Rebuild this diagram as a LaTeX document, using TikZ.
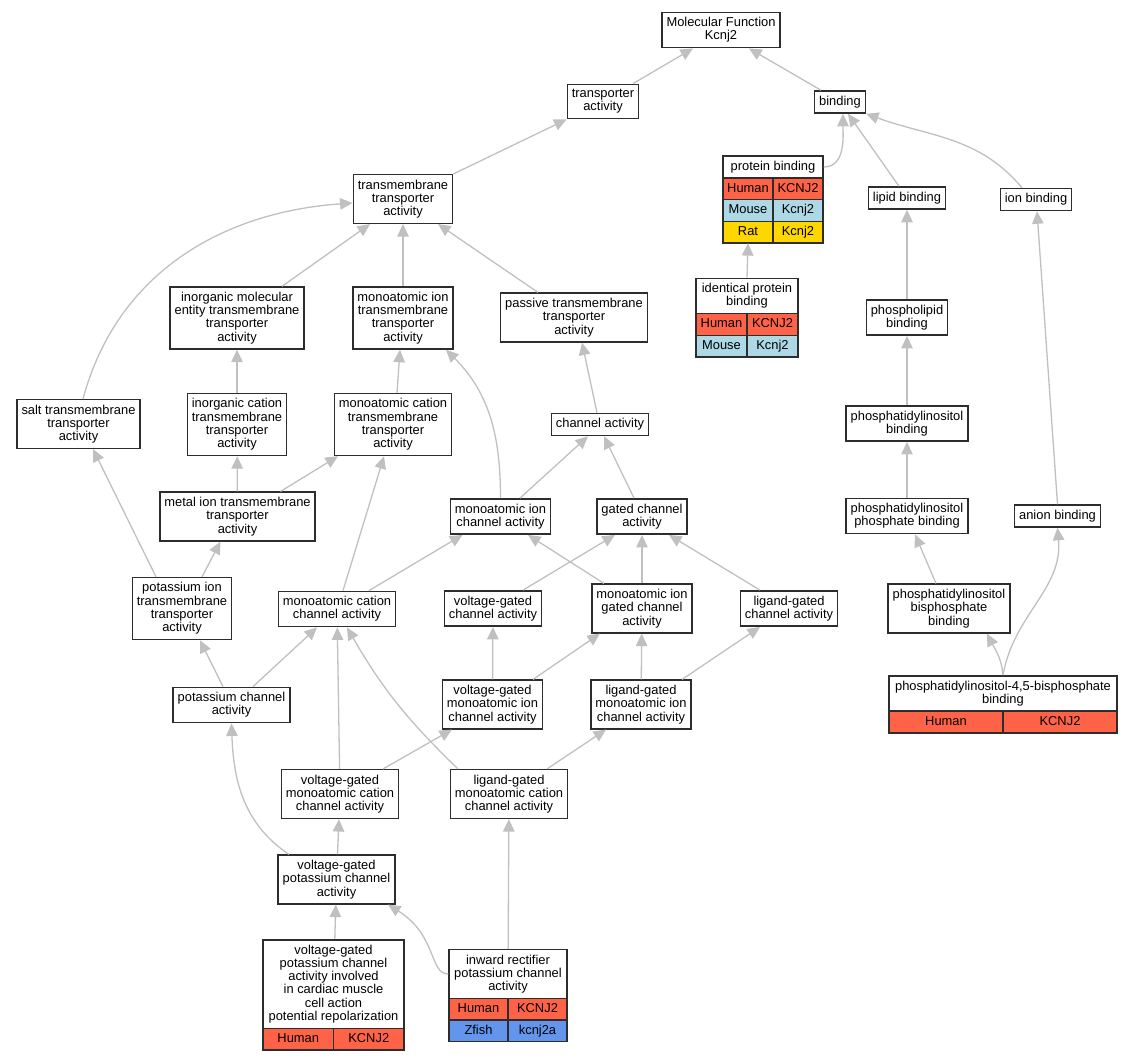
\documentclass[tikz,border=0pt]{standalone}
\usepackage{fontspec}
\setmainfont{Liberation Sans}
\usetikzlibrary{matrix,positioning,arrows.meta}
\definecolor{human}{RGB}{255,99,71}
\definecolor{mouse}{RGB}{173,216,230}
\definecolor{rat}{RGB}{255,215,0}
\definecolor{zfish}{RGB}{100,149,237}
\definecolor{linkgray}{RGB}{192,192,192}
\definecolor{boxgray}{RGB}{45,45,45}

\begin{document}
\begin{tikzpicture}[x=1pt,y=1pt,font=\fontsize{12.9}{13.3}\selectfont,
  term/.style={draw=boxgray,line width=1.5pt,fill=white,align=center,inner xsep=4.5pt,inner ysep=5pt},
  gtab/.style={matrix of nodes,inner sep=0pt,outer sep=0pt,row sep=-1.5pt,column sep=-1.5pt,
    nodes={draw=boxgray,line width=1.5pt,minimum width=#1,minimum height=21.7pt,
      inner sep=0pt,text height=9.4pt,text depth=2.7pt}},
  hs/.style={fill=human},ms/.style={fill=mouse},rs/.style={fill=rat},zs/.style={fill=zfish},
  isa/.style={draw=linkgray,line width=1.3pt,-{Triangle[length=12.5pt,width=11.5pt]}}]

  \useasboundingbox (0,0) rectangle (1133,-1061);

  % top of the tree
  \node[term] (mf) at (721,-30) {Molecular Function\\Kcnj2};
  \node[term] (ta) at (603,-101.5) {transporter\\activity};
  \node[term] (bind) at (840,-102) {binding};

  \node[term,minimum width=100pt] (pb) at (773,-167) {protein binding};
    \matrix[gtab=50pt,below=-1.5pt of pb] (pbt) {|[hs]| Human & |[hs]| KCNJ2\\
      |[ms]| Mouse & |[ms]| Kcnj2\\ |[rs]| Rat & |[rs]| Kcnj2\\};

  \node[term] (lip) at (907,-198) {lipid binding};
  \node[term] (ionb) at (1036,-199.5) {ion binding};
  \node[term] (tta) at (403,-199) {transmembrane\\transporter\\activity};

  \node[term] (imett) at (237,-318) {inorganic molecular\\entity transmembrane\\transporter\\activity};
  \node[term] (mitt) at (403,-318) {monoatomic ion\\transmembrane\\transporter\\activity};
  \node[term] (passive) at (574,-317.5) {passive transmembrane\\transporter\\activity};

  \node[term,minimum width=102pt] (ipb) at (747,-296) {identical protein\\binding};
    \matrix[gtab=51pt,below=-1.5pt of ipb] (ipbt) {|[hs]| Human & |[hs]| KCNJ2\\
      |[ms]| Mouse & |[ms]| Kcnj2\\};

  \node[term] (phl) at (907,-317.5) {phospholipid\\binding};

  \node[term] (salt) at (78.5,-424) {salt transmembrane\\transporter\\activity};
  \node[term] (ictt) at (237,-424.5) {inorganic cation\\transmembrane\\transporter\\activity};
  \node[term] (mctt) at (393,-424.5) {monoatomic cation\\transmembrane\\transporter\\activity};
  \node[term] (chan) at (600,-424.5) {channel activity};
  \node[term] (pib) at (907,-423.5) {phosphatidylinositol\\binding};

  \node[term] (metal) at (237.5,-516.5) {metal ion transmembrane\\transporter\\activity};
  \node[term] (mica) at (500.5,-516.5) {monoatomic ion\\channel activity};
  \node[term] (gca) at (642,-516.5) {gated channel\\activity};
  \node[term] (pipb) at (907,-516) {phosphatidylinositol\\phosphate binding};
  \node[term] (anion) at (1057.5,-516) {anion binding};

  \node[term] (kitt) at (182,-608.5) {potassium ion\\transmembrane\\transporter\\activity};
  \node[term] (mcca) at (337,-609) {monoatomic cation\\channel activity};
  \node[term] (vgca) at (493,-608.5) {voltage-gated\\channel activity};
  \node[term] (migca) at (642,-608.5) {monoatomic ion\\gated channel\\activity};
  \node[term] (lgca) at (789,-608.5) {ligand-gated\\channel activity};
  \node[term] (pipbb) at (949,-608.5) {phosphatidylinositol\\bisphosphate\\binding};

  \node[term] (kca) at (231.5,-705) {potassium channel\\activity};
  \node[term] (vgmica) at (492.5,-704.5) {voltage-gated\\monoatomic ion\\channel activity};
  \node[term] (lgmica) at (641,-704.5) {ligand-gated\\monoatomic ion\\channel activity};

  \node[term,minimum width=228pt] (pip2) at (1003,-693.5) {phosphatidylinositol-4,5-bisphosphate\\binding};
    \matrix[gtab=114pt,below=-1.5pt of pip2] (pip2t) {|[hs]| Human & |[hs]| KCNJ2\\};

  \node[term] (vgmcca) at (340,-794) {voltage-gated\\monoatomic cation\\channel activity};
  \node[term] (lgmcca) at (509,-794) {ligand-gated\\monoatomic cation\\channel activity};
  \node[term] (vgkca) at (336.5,-879.5) {voltage-gated\\potassium channel\\activity};

  \node[term,minimum width=141pt] (card) at (333.5,-984) {voltage-gated\\potassium channel\\activity involved\\in cardiac muscle\\cell action\\potential repolarization};
    \matrix[gtab=70.5pt,below=-1.5pt of card] (cardt) {|[hs]| Human & |[hs]| KCNJ2\\};

  \node[term,minimum width=118pt] (irk) at (508,-974) {inward rectifier\\potassium channel\\activity};
    \matrix[gtab=59pt,below=-1.5pt of irk] (irkt) {|[hs]| Human & |[hs]| KCNJ2\\
      |[zs]| Zfish & |[zs]| kcnj2a\\};

  % draw edges for binding side
  \draw[isa] ([xshift=30pt]ta.north) -- ([xshift=-28pt]mf.south);
  \draw[isa] ([xshift=-19pt]bind.north) -- ([xshift=28pt]mf.south);
  \draw[isa] (pb.east) to[out=0,in=-90] ([xshift=3pt]bind.south);
  \draw[isa] ([xshift=-8pt]lip.north) -- ([xshift=8pt]bind.south);
  \draw[isa] ([xshift=-14pt]ionb.north) to[out=130,in=-20] (bind.south east);
  \draw[isa] (ipb.north) -- (pbt-3-1.south);
  \draw[isa] (phl) -- (lip);
  \draw[isa] (anion.north) -- ([xshift=1pt]ionb.south);
  \draw[isa] (pib) -- (phl);
  \draw[isa] (pipb) -- (pib);
  \draw[isa] ([xshift=-13pt]pipbb.north) -- ([xshift=8pt]pipb.south);
  \draw[isa] (pip2.north) to[out=95,in=-63] ([xshift=38pt]pipbb.south);
  \draw[isa] (pip2.north) to[out=80,in=-85] (anion.south);

  % draw edges for transporter side
  \draw[isa] (tta.north east) -- (ta.south west);
  \draw[isa] ([xshift=45pt]imett.north) -- ([xshift=-33pt]tta.south);
  \draw[isa] (mitt) -- (tta);
  \draw[isa] ([xshift=-36pt]passive.north) -- ([xshift=35pt]tta.south);
  \draw[isa] ([xshift=4.5pt]salt.north) to[out=75,in=184] ([yshift=-4pt]tta.west);
  \draw[isa] (ictt) -- (imett);
  \draw[isa] ([xshift=4pt]mctt.north) -- ([xshift=-3pt]mitt.south);
  \draw[isa] ([xshift=-3pt]chan.north) -- ([xshift=8pt]passive.south);
  \draw[isa] (metal) -- (ictt);
  \draw[isa] ([xshift=43pt]metal.north) -- ([xshift=-55pt]mctt.south);
  \draw[isa] ([xshift=20pt]kitt.north) -- ([xshift=-17pt]metal.south);
  \draw[isa] ([xshift=-26pt]kitt.north) -- ([xshift=14.5pt]salt.south);
  \draw[isa] (mica.north) to[out=90,in=-45] ([xshift=43pt]mitt.south);
  \draw[isa] ([xshift=19.5pt]mica.north) -- ([xshift=-12pt]chan.south);
  \draw[isa] ([xshift=-8pt]gca.north) -- ([xshift=4pt]chan.south);

  % draw edges for channel part
  \draw[isa] ([xshift=32pt]mcca.north) -- ([xshift=-38pt]mica.south);
  \draw[isa] ([xshift=6pt]mcca.north) -- ([xshift=-9pt]mctt.south);
  \draw[isa] ([xshift=30pt]vgca.north) -- ([xshift=-27pt]gca.south);
  \draw[isa] ([xshift=-38pt]migca.north) -- ([xshift=27.5pt]mica.south);
  \draw[isa] (migca) -- (gca);
  \draw[isa] ([xshift=-29pt]lgca.north) -- ([xshift=27pt]gca.south);
  \draw[isa] ([xshift=-8.5pt]kca.north) -- ([xshift=18pt]kitt.south);
  \draw[isa] ([xshift=21.5pt]kca.north) -- ([xshift=-20pt]mcca.south);
  \draw[isa] (vgmica) -- (vgca);
  \draw[isa] ([xshift=40.5pt]vgmica.north) -- ([xshift=-42pt]migca.south);
  \draw[isa] (lgmica) -- (migca);
  \draw[isa] ([xshift=41pt]lgmica.north) -- ([xshift=-29pt]lgca.south);
  \draw[isa] ([xshift=43pt]vgmcca.north) -- ([xshift=-40.5pt]vgmica.south);
  \draw[isa] (vgmcca) -- (mcca);
  \draw[isa] ([xshift=-51pt]lgmcca.north) to[out=136,in=-60] ([xshift=10pt]mcca.south);
  \draw[isa] ([xshift=38pt]lgmcca.north) -- ([xshift=-35pt]lgmica.south);
  \draw[isa] ([xshift=-47.5pt]vgkca.north) to[out=146,in=-88] (kca.south);
  \draw[isa] (vgkca) -- (vgmcca);
  \draw[isa] (card) -- (vgkca);
  \draw[isa] (irk.west) to[out=180,in=-32,out distance=19pt,in distance=58pt] ([xshift=51.5pt]vgkca.south);
  \draw[isa] (irk) -- (lgmcca);

\end{tikzpicture}
\end{document}
